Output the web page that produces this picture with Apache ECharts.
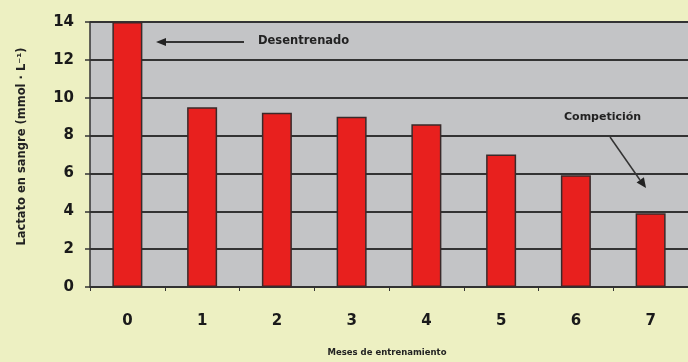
<!DOCTYPE html>
<html>
<head>
<meta charset="utf-8">
<script src="https://cdn.jsdelivr.net/npm/echarts@6/dist/echarts.min.js"></script>
<style>
  html, body { margin: 0; padding: 0; background: #edf0c2; }
  #chart { width: 688px; height: 362px; }
</style>
</head>
<body>
<div id="chart"></div>
<script>
// meses de entrenamiento
var meses = ['0', '1', '2', '3', '4', '5', '6', '7'];
// lactato en sangre (mmol/L)
var lactato = [14, 9.5, 9.2, 9.0, 8.6, 7.0, 5.9, 3.9];
var yTicks = [0, 2, 4, 6, 8, 10, 12, 14];

var FONT = '"DejaVu Sans"';
var chart = echarts.init(document.getElementById('chart'));

// punta de flecha (triangulo) para las anotaciones
function arrowHead(tipX, tipY, fromX, fromY, len, half) {
    var dx = tipX - fromX, dy = tipY - fromY;
    var d = Math.sqrt(dx * dx + dy * dy);
    var ux = dx / d, uy = dy / d;
    var bx = tipX - ux * len, by = tipY - uy * len;
    return [[tipX, tipY], [bx - uy * half, by + ux * half], [bx + uy * half, by - ux * half]];
}

var option = {
    backgroundColor: '#edf0c2',
    animation: false,
    grid: {
        left: 90,
        top: 22,
        width: 602,
        height: 265.5,
        show: true,
        backgroundColor: '#c3c4c6',
        borderWidth: 0
    },
    xAxis: {
        type: 'category',
        data: meses,
        name: 'Meses de entrenamiento',
        nameLocation: 'middle',
        nameGap: 61,
        nameTextStyle: { color: '#222', fontSize: 8.5, fontWeight: 'bold', fontFamily: FONT, padding: [0, 0, 0, -4] },
        axisLine: { lineStyle: { color: '#333', width: 1.5 } },
        axisTick: { show: true, length: 4, lineStyle: { color: '#333' } },
        axisLabel: { color: '#1a1a1a', fontSize: 15, fontWeight: 'bold', fontFamily: FONT, margin: 27 }
    },
    yAxis: {
        type: 'value',
        min: yTicks[0],
        max: yTicks[yTicks.length - 1],
        interval: 2,
        name: 'Lactato en sangre (mmol · L\u207B\u00B9)',
        nameLocation: 'middle',
        nameGap: 62,
        nameTextStyle: { color: '#222', fontSize: 11.5, fontWeight: 'bold', fontFamily: FONT, padding: [0, 0, 0, 16] },
        axisLine: { show: true, lineStyle: { color: '#333', width: 1.5 } },
        axisTick: { show: true, length: 5, lineStyle: { color: '#333', width: 1.5 } },
        axisLabel: { color: '#1a1a1a', fontSize: 15, fontWeight: 'bold', fontFamily: FONT, margin: 16 },
        splitLine: { show: true, lineStyle: { color: '#333', width: 2 } }
    },
    series: [{
        type: 'bar',
        data: lactato,
        barWidth: 30,
        itemStyle: { color: '#e8201e', borderColor: '#3a2a2a', borderWidth: 1.5 }
    }],
    graphic: [
        {
            type: 'line',
            shape: { x1: 244, y1: 42, x2: 164, y2: 42 },
            style: { stroke: '#333', lineWidth: 2 }
        },
        {
            type: 'polygon',
            shape: { points: arrowHead(156, 42, 244, 42, 10, 4) },
            style: { fill: '#222' }
        },
        {
            type: 'text',
            left: 258, top: 35,
            style: { text: 'Desentrenado', fill: '#222', font: 'bold 11.5px ' + FONT }
        },
        {
            type: 'text',
            left: 564, top: 112,
            style: { text: 'Competición', fill: '#222', font: 'bold 11px ' + FONT }
        },
        {
            type: 'line',
            shape: { x1: 610, y1: 137, x2: 640, y2: 180 },
            style: { stroke: '#333', lineWidth: 1.5 }
        },
        {
            type: 'polygon',
            shape: { points: arrowHead(646, 188, 610, 137, 10, 4.5) },
            style: { fill: '#222' }
        }
    ]
};

chart.setOption(option);
</script>
</body>
</html>
